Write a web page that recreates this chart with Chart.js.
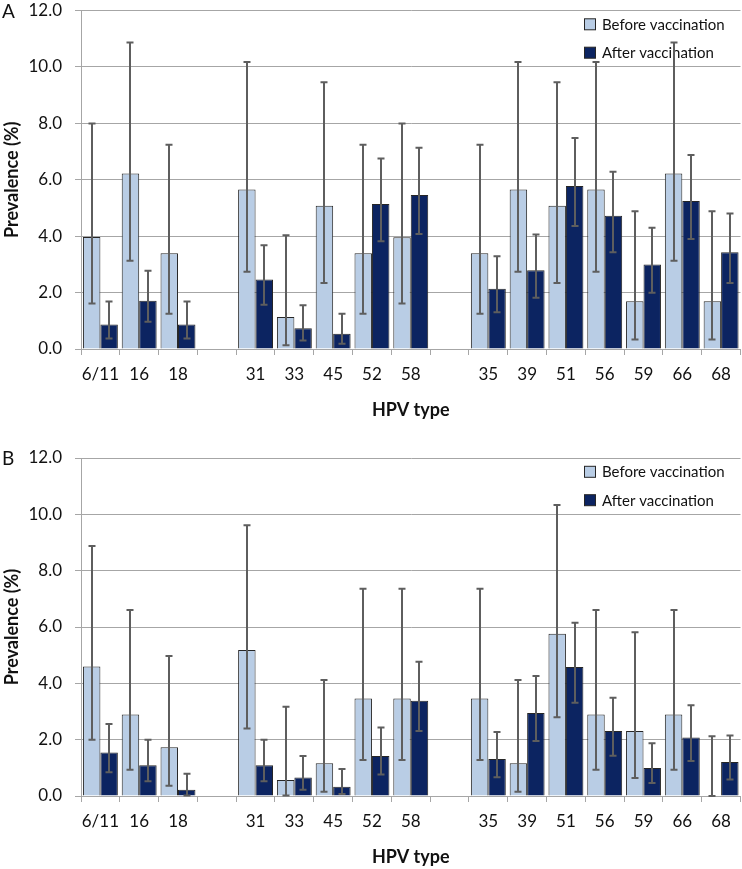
<!DOCTYPE html>
<html>
<head>
<meta charset="utf-8">
<script src="https://cdn.jsdelivr.net/npm/chart.js@4.4.1/dist/chart.umd.min.js"></script>
<style>
  html, body { margin: 0; padding: 0; background: #ffffff; }
  body { width: 742px; height: 869px; position: relative; overflow: hidden; font-family: Lato, sans-serif; }
  .panel { position: absolute; left: 0; }
  .letter { position: absolute; left: 2px; font-family: Lato, sans-serif; font-size: 19px; color: #111; line-height: 1; }
  canvas { display: block; }
</style>
</head>
<body>
<div class="panel" id="pA" style="top:0px;"><canvas id="chartA" width="742" height="430"></canvas></div>
<div class="panel" id="pB" style="top:447px;"><canvas id="chartB" width="742" height="422"></canvas></div>
<div class="letter" style="top:1px;">A</div>
<div class="letter" style="top:448px;">B</div>
<script>
// ---- Data ----
const categories = ['6/11', '16', '18', '', '31', '33', '45', '52', '58', '', '35', '39', '51', '56', '59', '66', '68'];
const yTickValues = [0, 2, 4, 6, 8, 10, 12];
const seriesNames = ['Before vaccination', 'After vaccination'];

// Panel A
const aBefore     = [3.97, 6.22, 3.39, null, 5.65, 1.13, 5.08, 3.39, 3.96, null, 3.39, 5.65, 5.08, 5.65, 1.69, 6.22, 1.69];
const aBeforeHigh = [7.99, 10.87, 7.24, null, 10.17, 4.03, 9.46, 7.24, 7.99, null, 7.24, 10.17, 9.46, 10.17, 4.88, 10.87, 4.88];
const aBeforeLow  = [1.61, 3.13, 1.25, null, 2.74, 0.13, 2.34, 1.25, 1.61, null, 1.25, 2.74, 2.34, 2.74, 0.34, 3.13, 0.34];
const aAfter      = [0.87, 1.71, 0.87, null, 2.46, 0.74, 0.54, 5.14, 5.46, null, 2.14, 2.79, 5.78, 4.72, 3.00, 5.25, 3.43];
const aAfterHigh  = [1.68, 2.77, 1.68, null, 3.68, 1.55, 1.25, 6.75, 7.13, null, 3.29, 4.06, 7.48, 6.28, 4.30, 6.88, 4.80];
const aAfterLow   = [0.37, 0.97, 0.37, null, 1.57, 0.30, 0.19, 3.82, 4.08, null, 1.30, 1.82, 4.36, 3.43, 1.99, 3.90, 2.34];

// Panel B
const bBefore     = [4.60, 2.89, 1.73, null, 5.18, 0.57, 1.16, 3.46, 3.46, null, 3.46, 1.16, 5.76, 2.89, 2.31, 2.89, 0];
const bBeforeHigh = [8.88, 6.60, 4.97, null, 9.61, 3.17, 4.12, 7.36, 7.36, null, 7.36, 4.12, 10.33, 6.60, 5.81, 6.60, 2.12];
const bBeforeLow  = [2.00, 0.93, 0.36, null, 2.40, 0.02, 0.15, 1.28, 1.28, null, 1.28, 0.15, 2.80, 0.93, 0.64, 0.93, 0];
const bAfter      = [1.54, 1.09, 0.22, null, 1.09, 0.66, 0.33, 1.42, 3.38, null, 1.31, 2.95, 4.58, 2.31, 0.99, 2.08, 1.21];
const bAfterHigh  = [2.56, 2.00, 0.79, null, 2.00, 1.42, 0.96, 2.43, 4.77, null, 2.27, 4.26, 6.15, 3.49, 1.87, 3.22, 2.15];
const bAfterLow   = [0.84, 0.52, 0.02, null, 0.52, 0.22, 0.07, 0.76, 2.31, null, 0.67, 1.95, 3.31, 1.43, 0.46, 1.24, 0.59];

// ---- Styling ----
const FONT = 'Lato, "Open Sans", sans-serif';
const COL_BEFORE = '#b9cde5';
const COL_AFTER = '#0c2461';
const BORDER = '#262626';
const GRID = '#a6a6a6';
const ERR = '#5e5e5e';

const errorBarPlugin = {
  id: 'errorBars',
  afterDatasetsDraw(chart) {
    const ctx = chart.ctx;
    const yScale = chart.scales.y;
    chart.data.datasets.forEach((ds, di) => {
      const meta = chart.getDatasetMeta(di);
      meta.data.forEach((el, i) => {
        const lo = ds.errLow[i], hi = ds.errHigh[i];
        if (lo === null || hi === null || ds.data[i] === null) return;
        const x = Math.round(el.x);
        const yl = yScale.getPixelForValue(lo);
        const yh = yScale.getPixelForValue(hi);
        ctx.save();
        ctx.strokeStyle = ERR;
        ctx.lineWidth = 2;
        ctx.beginPath();
        ctx.moveTo(x, yl); ctx.lineTo(x, yh);
        ctx.moveTo(x - 3.5, yl); ctx.lineTo(x + 3.5, yl);
        ctx.moveTo(x - 3.5, yh); ctx.lineTo(x + 3.5, yh);
        ctx.stroke();
        ctx.restore();
      });
    });
  }
};

const innerLegendPlugin = {
  id: 'innerLegend',
  beforeDatasetsDraw(chart) {
    const ctx = chart.ctx;
    const top = chart.chartArea.top;
    const items = chart.data.datasets.map(d => ({ text: d.label, color: d.backgroundColor }));
    const rows = [top + 13.8, top + 42.2];
    ctx.save();
    ctx.font = '15px ' + FONT;
    ctx.textBaseline = 'middle';
    ctx.textAlign = 'left';
    items.forEach((it, k) => {
      const cy = rows[k];
      ctx.fillStyle = it.color;
      ctx.fillRect(584.5, cy - 5.5, 11, 11);
      ctx.strokeStyle = BORDER;
      ctx.lineWidth = 1;
      ctx.strokeRect(584.5, cy - 5.5, 11, 11);
      ctx.fillStyle = '#111111';
      ctx.fillText(it.text, 602, cy + 0.5);
    });
    ctx.restore();
  }
};

function buildChart(canvasId, before, beforeLow, beforeHigh, after, afterLow, afterHigh, pad) {
  return new Chart(document.getElementById(canvasId), {
    type: 'bar',
    data: {
      labels: categories,
      datasets: [
        { label: seriesNames[0], data: before, errLow: beforeLow, errHigh: beforeHigh,
          backgroundColor: COL_BEFORE, borderColor: BORDER, borderWidth: 1, borderSkipped: 'start',
          categoryPercentage: 0.9, barPercentage: 1.0 },
        { label: seriesNames[1], data: after, errLow: afterLow, errHigh: afterHigh,
          backgroundColor: COL_AFTER, borderColor: BORDER, borderWidth: 1, borderSkipped: 'start',
          categoryPercentage: 0.9, barPercentage: 1.0 }
      ]
    },
    options: {
      responsive: false,
      animation: false,
      devicePixelRatio: 1,
      layout: { padding: pad },
      plugins: { legend: { display: false }, tooltip: { enabled: false }, title: { display: false } },
      scales: {
        x: {
          offset: true,
          afterFit: s => { s.height = 71.8; s.paddingLeft = 0; s.paddingRight = 0; },
          grid: { display: true, drawOnChartArea: false, drawTicks: true, tickLength: 6, color: GRID, offset: true },
          border: { display: true, color: GRID, width: 1 },
          ticks: { color: '#111', font: { family: FONT, size: 17 }, padding: 9.8, maxRotation: 0, autoSkip: false },
          title: { display: true, text: 'HPV type', color: '#111', font: { family: FONT, size: 18, weight: 'bold' }, padding: { top: 14, bottom: 0 } }
        },
        y: {
          min: 0, max: 12,
          afterBuildTicks: s => { s.ticks = yTickValues.map(v => ({ value: v })); },
          afterFit: s => { s.width = 81; s.paddingTop = 0; s.paddingBottom = 0; },
          grid: { color: GRID, lineWidth: 1, tickLength: 6, drawTicks: true },
          border: { display: true, color: GRID, width: 1 },
          ticks: { color: '#111', font: { family: FONT, size: 17 }, padding: 13, callback: v => Number(v).toFixed(1) },
          title: { display: true, text: 'Prevalence (%)', color: '#111', font: { family: FONT, size: 18, weight: 'bold' }, padding: { top: 1, bottom: 0 } }
        }
      }
    },
    plugins: [innerLegendPlugin, errorBarPlugin]
  });
}

buildChart('chartA', aBefore, aBeforeLow, aBeforeHigh, aAfter, aAfterLow, aAfterHigh,
  { top: 10.5, bottom: 9.2, left: 0, right: 1.5 });
buildChart('chartB', bBefore, bBeforeLow, bBeforeHigh, bAfter, bAfterLow, bAfterHigh,
  { top: 11, bottom: 1.2, left: 0, right: 1.5 });
</script>
</body>
</html>
